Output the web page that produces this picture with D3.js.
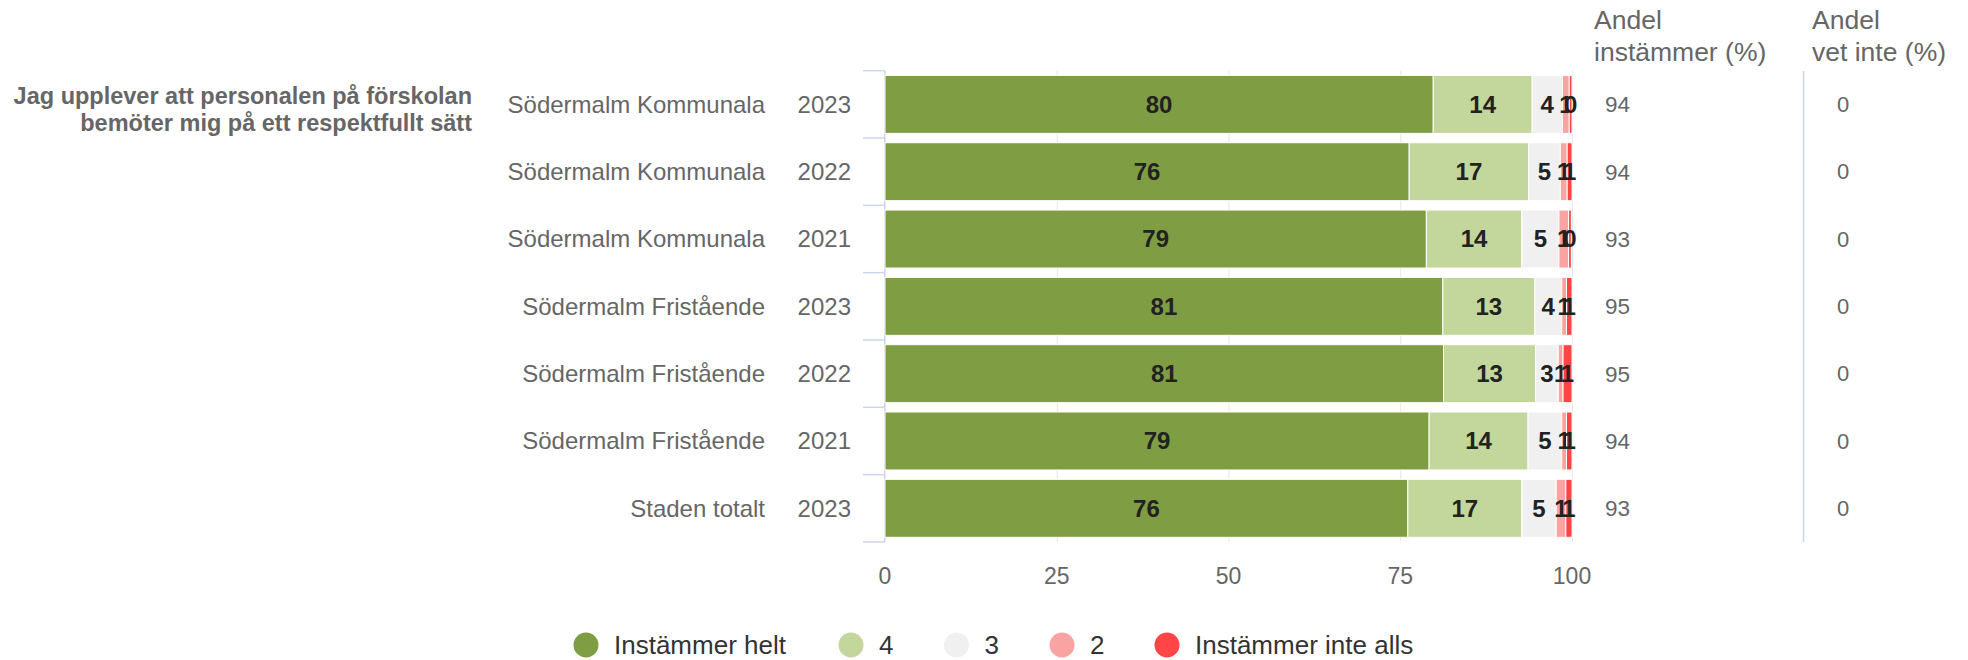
<!DOCTYPE html>
<head>
    <meta charset="utf-8">
    <title>Respektfullt bemötande</title>
    <style>
        body { margin: 0; background: #fff; }
        svg text { font-family: "Liberation Sans", Arial, sans-serif; }
    </style>
</head>
<body>
    <script src="https://d3js.org/d3.v7.min.js"></script>
    <script>
        // rows of the chart
        var units = ["Södermalm Kommunala", "Södermalm Kommunala", "Södermalm Kommunala",
            "Södermalm Fristående", "Södermalm Fristående", "Södermalm Fristående", "Staden totalt"];
        var years = ["2023", "2022", "2021", "2023", "2022", "2021", "2023"];

        // answer shares in percent
        var seriesNames = ["Instämmer helt", "4", "3", "2", "Instämmer inte alls"];
        var helt = [79.8, 76.3, 78.8, 81.2, 81.3, 79.2, 76.1];
        var fyra = [14.4, 17.4, 13.9, 13.4, 13.4, 14.4, 16.6];
        var tre = [4.4, 4.6, 5.4, 3.9, 3.3, 4.9, 5.0];
        var tva = [1.0, 1.0, 1.4, 0.7, 0.7, 0.7, 1.4];
        var inteAlls = [0.4, 0.7, 0.4, 0.8, 1.3, 0.8, 0.9];

        // side columns
        var andelInstammer = [94, 94, 93, 95, 95, 94, 93];
        var andelVetInte = [0, 0, 0, 0, 0, 0, 0];
        var xTicks = [0, 25, 50, 75, 100];

        var colors = ["#7f9d43", "#c3d69b", "#f0f0f0", "#f9a3a3", "#ff4545"];

        var width = 1968, height = 660;
        var svg = d3.select("body").append("svg")
            .attr("width", width)
            .attr("height", height);

        var table = units.map(function (u, i) {
            return { id: i, unit: u, year: years[i], s0: helt[i], s1: fyra[i], s2: tre[i], s3: tva[i], s4: inteAlls[i] };
        });
        var keys = ["s0", "s1", "s2", "s3", "s4"];
        var stacked = d3.stack().keys(keys)(table);

        var x = d3.scaleLinear().domain([0, 100]).range([885, 1572]);
        var y = d3.scaleBand().domain(d3.range(units.length))
            .range([70.7, 542])
            .paddingInner(0.139)
            .paddingOuter(0.07);
        var step = y.step();
        var plotTop = y.range()[0];

        // grid lines
        svg.append("g").selectAll("line")
            .data(xTicks)
            .enter().append("line")
            .attr("x1", function (d) { return x(d) + 0.5; })
            .attr("x2", function (d) { return x(d) + 0.5; })
            .attr("y1", 70.7)
            .attr("y2", 542)
            .attr("stroke", "#e6e6e6")
            .attr("stroke-width", 1);

        // y axis line + bracket ticks
        svg.append("line")
            .attr("x1", 884.5).attr("x2", 884.5)
            .attr("y1", 70.7).attr("y2", 542)
            .attr("stroke", "#ccd6eb");
        svg.append("g").selectAll("line")
            .data(d3.range(units.length + 1))
            .enter().append("line")
            .attr("x1", 863)
            .attr("x2", 885)
            .attr("y1", function (d) { return plotTop + d * step; })
            .attr("y2", function (d) { return plotTop + d * step; })
            .attr("stroke", "#ccd6eb")
            .attr("stroke-width", 1.5);

        // bars
        var layers = svg.append("g").selectAll("g")
            .data(stacked)
            .enter().append("g")
            .attr("fill", function (d, i) { return colors[i]; });

        layers.selectAll("rect")
            .data(function (d) { return d; })
            .enter().append("rect")
            .attr("x", function (d) { return x(d[0]); })
            .attr("y", function (d) { return y(d.data.id); })
            .attr("width", function (d) { return x(d[1]) - x(d[0]); })
            .attr("height", y.bandwidth())
            .attr("stroke", "#ffffff")
            .attr("stroke-width", 1);

        // data labels
        layers.selectAll("text")
            .data(function (d) { return d; })
            .enter().append("text")
            .attr("x", function (d) { return (x(d[0]) + x(d[1])) / 2; })
            .attr("y", function (d) { return y(d.data.id) + y.bandwidth() / 2; })
            .attr("dy", "0.35em")
            .attr("text-anchor", "middle")
            .style("font-size", "24px")
            .style("font-weight", "bold")
            .attr("fill", "#222")
            .text(function (d) { return Math.round(d[1] - d[0]); });

        // category labels
        var rowMid = function (i) { return y(i) + y.bandwidth() / 2; };
        svg.append("g").selectAll("text")
            .data(units)
            .enter().append("text")
            .attr("x", 765)
            .attr("y", function (d, i) { return rowMid(i); })
            .attr("dy", "0.35em")
            .attr("text-anchor", "end")
            .style("font-size", "24px")
            .attr("fill", "#666")
            .text(function (d) { return d; });
        svg.append("g").selectAll("text")
            .data(years)
            .enter().append("text")
            .attr("x", 851)
            .attr("y", function (d, i) { return rowMid(i); })
            .attr("dy", "0.35em")
            .attr("text-anchor", "end")
            .style("font-size", "24px")
            .attr("fill", "#666")
            .text(function (d) { return d; });

        // question
        var q = svg.append("text")
            .attr("text-anchor", "end")
            .style("font-size", "23.5px")
            .style("font-weight", "bold")
            .attr("fill", "#666");
        q.append("tspan").attr("x", 472).attr("y", 104).text("Jag upplever att personalen på förskolan");
        q.append("tspan").attr("x", 472).attr("y", 131).text("bemöter mig på ett respektfullt sätt");

        // x axis labels
        svg.append("g").selectAll("text")
            .data(xTicks)
            .enter().append("text")
            .attr("x", function (d) { return x(d); })
            .attr("y", 576)
            .attr("dy", "0.35em")
            .attr("text-anchor", "middle")
            .style("font-size", "23px")
            .attr("fill", "#666")
            .text(function (d) { return d; });

        // right columns
        var h1 = svg.append("text").style("font-size", "26.5px").attr("fill", "#666");
        h1.append("tspan").attr("x", 1594).attr("y", 29).text("Andel");
        h1.append("tspan").attr("x", 1594).attr("y", 61).text("instämmer (%)");
        var h2 = svg.append("text").style("font-size", "26.5px").attr("fill", "#666");
        h2.append("tspan").attr("x", 1812).attr("y", 29).text("Andel");
        h2.append("tspan").attr("x", 1812).attr("y", 61).text("vet inte (%)");

        svg.append("line")
            .attr("x1", 1803.5).attr("x2", 1803.5)
            .attr("y1", 71).attr("y2", 542)
            .attr("stroke", "#ccd6eb")
            .attr("stroke-width", 1.5);

        svg.append("g").selectAll("text")
            .data(andelInstammer)
            .enter().append("text")
            .attr("x", 1605)
            .attr("y", function (d, i) { return rowMid(i); })
            .attr("dy", "0.35em")
            .style("font-size", "22.5px")
            .attr("fill", "#666")
            .text(function (d) { return d; });
        svg.append("g").selectAll("text")
            .data(andelVetInte)
            .enter().append("text")
            .attr("x", 1843)
            .attr("y", function (d, i) { return rowMid(i); })
            .attr("dy", "0.35em")
            .attr("text-anchor", "middle")
            .style("font-size", "22px")
            .attr("fill", "#666")
            .text(function (d) { return d; });

        // legend
        var legendX = [586, 851, 956.5, 1062, 1167];
        var legend = svg.append("g").selectAll("g")
            .data(seriesNames)
            .enter().append("g")
            .attr("transform", function (d, i) { return "translate(" + legendX[i] + ",645)"; });
        legend.append("circle")
            .attr("r", 12.5)
            .attr("fill", function (d, i) { return colors[i]; });
        legend.append("text")
            .attr("x", 28)
            .attr("dy", "0.35em")
            .style("font-size", "26px")
            .attr("fill", "#333")
            .text(function (d) { return d; });
    </script>
</body>
